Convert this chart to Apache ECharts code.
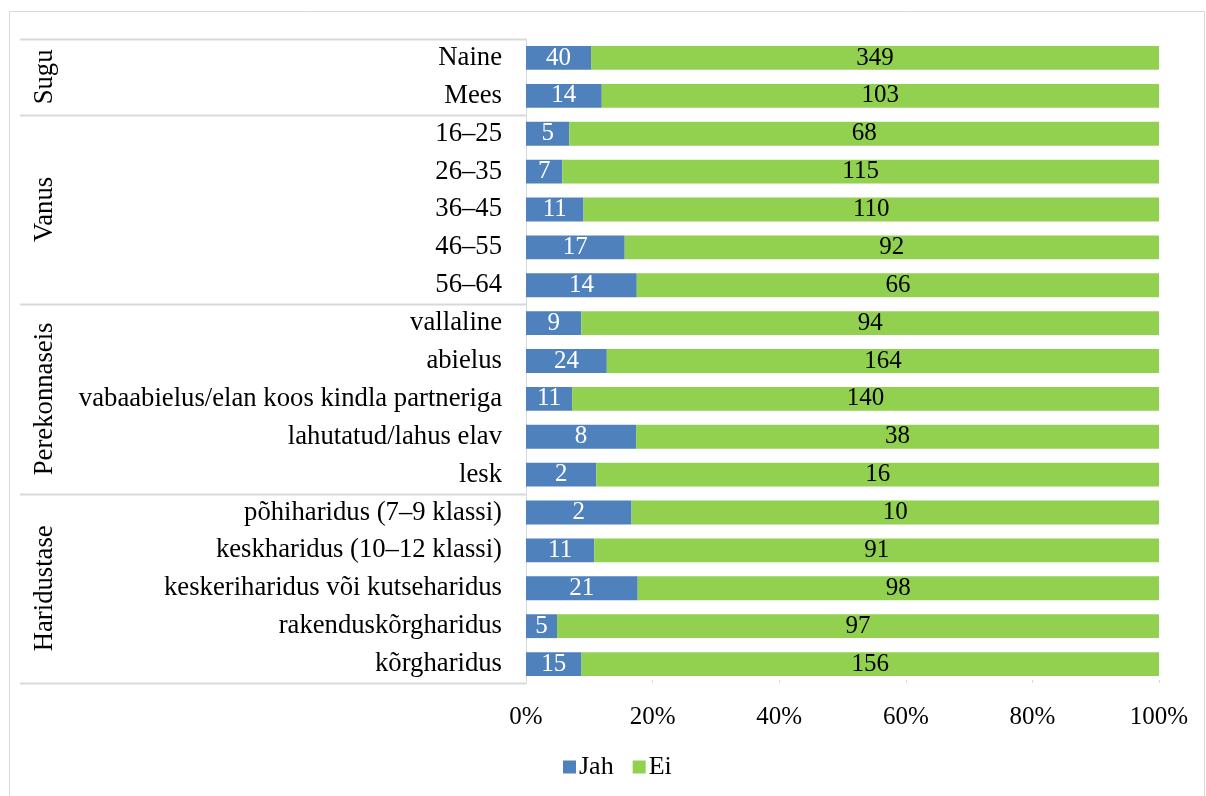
<!DOCTYPE html>
<html><head><meta charset="utf-8">
<script src="https://cdn.jsdelivr.net/npm/echarts@6/dist/echarts.min.js"></script>
<style>html,body{margin:0;padding:0;background:#fff}#c{width:1206px;height:796px}</style>
</head><body><div id="c"></div>
<script>
const cats = ['Naine','Mees','16–25','26–35','36–45','46–55','56–64','vallaline','abielus','vabaabielus/elan koos kindla partneriga','lahutatud/lahus elav','lesk','põhiharidus (7–9 klassi)','keskharidus (10–12 klassi)','keskeriharidus või kutseharidus','rakenduskõrgharidus','kõrgharidus'];
const jah = [40,14,5,7,11,17,14,9,24,11,8,2,2,11,21,5,15];
const ei  = [349,103,68,115,110,92,66,94,164,140,38,16,10,91,98,97,156];
const groups = ['Sugu','Vanus','Perekonnaseis','Haridustase'];
const groupSizes = [2,5,5,5];
const tickLabels = ['0%','20%','40%','60%','80%','100%'];

const font = 'Liberation Serif, Times New Roman, serif';
const fs = 25;
const fsCat = 26.7;
const jahPct = jah.map((v,i)=>v/(v+ei[i])*100);
const eiPct = ei.map((v,i)=>v/(jah[i]+v)*100);

const chart = echarts.init(document.getElementById('c'));
chart.setOption({
  animation:false,
  grid:{left:526,right:47,top:39,bottom:113,containLabel:false},
  legend:{data:['Jah','Ei'],top:754,left:563,itemWidth:13,itemHeight:13,itemGap:19,
    textStyle:{fontFamily:font,fontSize:fs+1,color:'#000',padding:[0,0,0,-2]},icon:'rect',padding:0},
  xAxis:{type:'value',min:0,max:100,interval:20,
    axisLabel:{formatter:(v)=>tickLabels[Math.round(v/20)],fontFamily:font,fontSize:fs,color:'#000',margin:22},
    splitLine:{show:false},axisLine:{show:false},
    axisTick:{show:true,inside:true,length:3,lineStyle:{color:'#d9d9d9'}}},
  yAxis:{type:'category',data:cats,inverse:true,
    axisLine:{show:true,lineStyle:{color:'#d9d9d9'}},axisTick:{show:false},
    axisLabel:{fontFamily:font,fontSize:fsCat,color:'#000',margin:24,padding:[3,0,0,0]}},
  series:[
    {name:'Jah',type:'bar',stack:'s',barWidth:'63%',data:jahPct,itemStyle:{color:'#4F81BD'},
     label:{show:true,position:'inside',color:'#fff',fontFamily:font,fontSize:fs,formatter:(p)=>jah[p.dataIndex]}},
    {name:'Ei',type:'bar',stack:'s',barWidth:'63%',data:eiPct,itemStyle:{color:'#92D050'},
     label:{show:true,position:'inside',color:'#000',fontFamily:font,fontSize:fs,formatter:(p)=>ei[p.dataIndex]}}
  ]
});

const yOf = (i)=>chart.convertToPixel({yAxisIndex:0}, cats[i]);
const band = yOf(1)-yOf(0);
const xAxisX = chart.convertToPixel({xAxisIndex:0},0);
const els = [{type:'rect',shape:{x:9.5,y:11.5,width:1195,height:800},style:{fill:'none',stroke:'#d9d9d9',lineWidth:1},silent:true}];
const y0 = Math.round(yOf(0)-band/2)+0.5;
els.push({type:'line',shape:{x1:20,y1:y0,x2:xAxisX,y2:y0},style:{stroke:'#d9d9d9',lineWidth:2}});
let start = 0;
groups.forEach((g,gi)=>{
  const end = start+groupSizes[gi];
  const top = yOf(start)-band/2, bot = yOf(end-1)+band/2;
  const yb = Math.round(bot)+0.5;
  els.push({type:'line',shape:{x1:20,y1:yb,x2:xAxisX,y2:yb},style:{stroke:'#d9d9d9',lineWidth:2}});
  els.push({type:'text',x:45,y:(top+bot)/2,rotation:Math.PI/2,
    style:{text:g,font:fsCat+'px '+font,fill:'#000',align:'center',verticalAlign:'middle'}});
  start = end;
});
chart.setOption({graphic:els});
</script>
</body></html>
